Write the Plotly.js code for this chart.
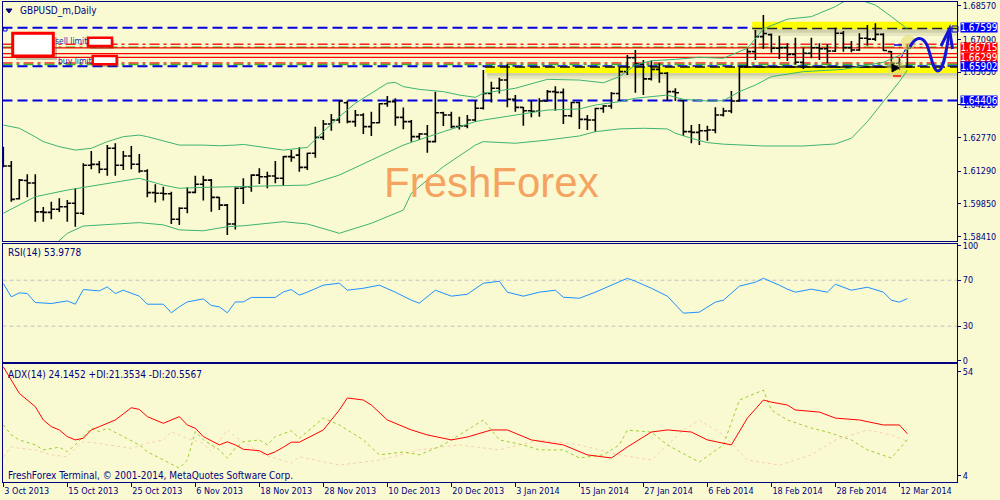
<!DOCTYPE html>
<html><head><meta charset="utf-8">
<script src="https://cdn.plot.ly/plotly-3.0.1.min.js"></script>
<style>html,body{margin:0;padding:0;background:#FAFAD2;}#chart{width:1000px;height:500px;}</style>
</head><body><div id="chart"></div>
<script>
// ---------- DATA ----------
const dateTicks = ['3 Oct 2013','15 Oct 2013','25 Oct 2013','6 Nov 2013','18 Nov 2013','28 Nov 2013','10 Dec 2013','20 Dec 2013','3 Jan 2014','15 Jan 2014','27 Jan 2014','6 Feb 2014','18 Feb 2014','28 Feb 2014','12 Mar 2014'];
const dateTickBars = [0,8,16,24,32,40,48,56,64,72,80,88,96,104,112];

const open = [1.6200,1.6152,1.6008,1.6088,1.6077,1.5950,1.5948,1.5962,1.5973,1.5988,
1.5944,1.6155,1.6159,1.6138,1.6230,1.6155,1.6196,1.6160,1.6130,1.6035,
1.6032,1.6030,1.5918,1.5966,1.6036,1.6072,1.6090,1.6014,1.5980,1.5897,
1.6054,1.6061,1.6112,1.6105,1.6108,1.6098,1.6193,1.6200,1.6146,1.6208,
1.6278,1.6337,1.6354,1.6430,1.6347,1.6376,1.6325,1.6342,1.6426,1.6435,
1.6366,1.6347,1.6281,1.6293,1.6259,1.6386,1.6376,1.6325,1.6328,1.6354,
1.6406,1.6471,1.6494,1.6530,1.6445,1.6410,1.6395,1.6393,1.6438,1.6479,
1.6476,1.6373,1.6431,1.6357,1.6354,1.6405,1.6416,1.6471,1.6567,1.6628,
1.6600,1.6535,1.6577,1.6560,1.6479,1.6440,1.6303,1.6300,1.6307,1.6310,
1.6376,1.6394,1.6438,1.6589,1.6655,1.6721,1.6730,1.6670,1.6672,1.6643,
1.6608,1.6648,1.6672,1.6668,1.6658,1.6736,1.6672,1.6662,1.6714,1.6710,
1.6731,1.6655,1.6604,1.6589];
const high = [1.6237,1.6174,1.6095,1.6116,1.6116,1.5972,1.5995,1.6010,1.6002,1.6054,
1.6164,1.6218,1.6174,1.6244,1.6252,1.6218,1.6240,1.6205,1.6138,1.6072,
1.6061,1.6039,1.5970,1.6058,1.6109,1.6109,1.6095,1.6016,1.5985,1.6058,
1.6098,1.6116,1.6142,1.6127,1.6174,1.6196,1.6222,1.6234,1.6210,1.6325,
1.6354,1.6381,1.6439,1.6439,1.6398,1.6384,1.6391,1.6428,1.6460,1.6450,
1.6409,1.6354,1.6297,1.6332,1.6479,1.6391,1.6391,1.6369,1.6376,1.6442,
1.6574,1.6523,1.6540,1.6599,1.6464,1.6412,1.6439,1.6450,1.6486,1.6503,
1.6493,1.6435,1.6435,1.6376,1.6408,1.6420,1.6477,1.6589,1.6640,1.6662,
1.6618,1.6615,1.6604,1.6565,1.6494,1.6442,1.6332,1.6337,1.6329,1.6410,
1.6408,1.6482,1.6592,1.6670,1.6750,1.6816,1.6735,1.6725,1.6692,1.6716,
1.6672,1.6716,1.6692,1.6687,1.6760,1.6746,1.6702,1.6736,1.6772,1.6780,
1.6736,1.6658,1.6626,1.6684];
const low = [1.6146,1.5995,1.6005,1.6014,1.5907,1.5907,1.5918,1.5950,1.5907,1.5885,
1.5937,1.6138,1.6120,1.6109,1.6109,1.6134,1.6138,1.6122,1.6014,1.5991,
1.6000,1.5897,1.5893,1.5944,1.6032,1.6000,1.5951,1.5958,1.5848,1.5873,
1.5985,1.6039,1.6073,1.6054,1.6076,1.6064,1.6171,1.6127,1.6134,1.6188,
1.6266,1.6307,1.6340,1.6340,1.6325,1.6293,1.6284,1.6340,1.6413,1.6329,
1.6314,1.6259,1.6266,1.6210,1.6255,1.6328,1.6318,1.6313,1.6318,1.6347,
1.6401,1.6431,1.6471,1.6410,1.6391,1.6329,1.6366,1.6369,1.6435,1.6395,
1.6337,1.6366,1.6315,1.6310,1.6303,1.6386,1.6404,1.6439,1.6552,1.6474,
1.6464,1.6528,1.6518,1.6438,1.6438,1.6284,1.6252,1.6244,1.6263,1.6296,
1.6370,1.6384,1.6435,1.6585,1.6618,1.6667,1.6650,1.6623,1.6614,1.6599,
1.6579,1.6626,1.6618,1.6604,1.6653,1.6655,1.6652,1.6658,1.6681,1.6702,
1.6658,1.6582,1.6574,1.6585];
const close = [1.6152,1.6005,1.6090,1.6077,1.5950,1.5948,1.5962,1.5973,1.5988,1.5944,
1.6155,1.6159,1.6138,1.6230,1.6155,1.6196,1.6160,1.6130,1.6035,1.6032,
1.6030,1.5918,1.5966,1.6036,1.6072,1.6090,1.6014,1.5980,1.5897,1.6054,
1.6061,1.6112,1.6105,1.6108,1.6098,1.6193,1.6190,1.6146,1.6208,1.6278,
1.6337,1.6354,1.6438,1.6347,1.6376,1.6325,1.6342,1.6426,1.6435,1.6366,
1.6347,1.6281,1.6293,1.6259,1.6386,1.6376,1.6325,1.6328,1.6354,1.6406,
1.6471,1.6494,1.6530,1.6445,1.6410,1.6395,1.6393,1.6438,1.6479,1.6476,
1.6373,1.6431,1.6357,1.6354,1.6405,1.6416,1.6471,1.6567,1.6628,1.6600,
1.6535,1.6577,1.6560,1.6479,1.6474,1.6303,1.6300,1.6307,1.6310,1.6376,
1.6394,1.6438,1.6589,1.6655,1.6721,1.6735,1.6670,1.6672,1.6643,1.6608,
1.6648,1.6672,1.6668,1.6658,1.6736,1.6672,1.6662,1.6714,1.6710,1.6731,
1.6660,1.6604,1.6589,1.6670];

// Bollinger bands, sampled at bar indices
const bbUpIdx = [0,2,4,5,7,9,11,13,15,17,18,20,22,25,27,29,30,35,38,40,42,44,46,48,49,50,52,55,57,59,60,64,68,72,75,77,79,81,84,87,90,93,95,98,101,104,106,109,111,113];
const bbUp = [1.6332,1.6318,1.6280,1.6259,1.6237,1.6222,1.6230,1.6259,1.6281,1.6288,1.6281,1.6263,1.6244,1.6244,1.6241,1.6244,1.6247,1.6222,1.6234,1.6303,1.6369,1.6428,1.6472,1.6516,1.6520,1.6501,1.6489,1.6479,1.6464,1.6454,1.6472,1.6494,1.6533,1.6530,1.6518,1.6545,1.6596,1.6615,1.6621,1.6630,1.6626,1.6670,1.6755,1.6798,1.6809,1.6853,1.6895,1.6860,1.6809,1.6755];
const bbMidIdx = [0,4,8,10,16,17,20,22,25,29,30,38,42,46,50,55,59,60,64,68,72,74,77,79,83,85,88,90,92,94,96,100,105,107,110,112,113];
const bbMid = [1.5944,1.6017,1.6046,1.6058,1.6095,1.6098,1.6068,1.6054,1.6058,1.6061,1.6064,1.6068,1.6112,1.6178,1.6244,1.6303,1.6347,1.6354,1.6376,1.6398,1.6403,1.6420,1.6435,1.6450,1.6464,1.6445,1.6438,1.6439,1.6479,1.6508,1.6545,1.6567,1.6577,1.6589,1.6608,1.6638,1.6664];
const bbLowIdx = [0,3,5,7,8,10,13,17,20,22,25,28,30,35,38,42,46,50,51,55,59,60,64,68,72,74,77,80,83,84,86,88,90,95,100,104,106,108,110,112,113];
const bbLow = [1.5558,1.5673,1.5760,1.5827,1.5856,1.5888,1.5893,1.5903,1.5893,1.5871,1.5867,1.5885,1.5889,1.5907,1.5897,1.5856,1.5900,1.5958,1.6032,1.6149,1.6244,1.6259,1.6252,1.6266,1.6284,1.6303,1.6315,1.6318,1.6315,1.6296,1.6274,1.6255,1.6248,1.6240,1.6240,1.6249,1.6274,1.6347,1.6435,1.6523,1.6574];

// RSI(14)
const rsiIdx = [0,1,2,3,4,6,8,9,10,12,13,14,15,17,18,20,21,22,23,25,26,27,28,29,30,31,34,35,36,37,38,40,42,43,45,47,49,51,52,54,56,58,60,62,63,65,67,69,70,72,74,77,78,79,81,83,85,87,89,90,92,94,95,97,98,99,101,103,104,106,108,110,111,112,113];
const rsiVal = [67.1,55.5,59.0,58.4,50.6,49.7,52.0,49.1,61.9,60.7,64.2,58.4,61.3,56.1,49.1,49.1,41.6,46.8,51.1,53.7,48.0,46.8,41.6,51.1,51.1,55.0,55.0,59.8,61.9,57.0,59.6,65.7,67.4,61.3,63.0,65.7,59.6,52.6,50.0,61.3,56.1,57.8,67.4,69.1,59.6,56.1,59.6,61.3,55.2,54.3,59.6,68.3,71.7,69.1,63.0,56.1,41.3,42.2,50.9,52.6,64.8,68.3,71.7,65.7,62.2,59.6,62.2,59.6,66.5,61.3,63.9,59.6,52.6,50.9,53.98];
const rsiLevels = [70, 30];

// ADX(14), +DI, -DI
const adxIdx = [0,1,2,4,5,6,7,8,9,10,11,12,14,15,16,17,18,20,22,23,24,25,27,28,29,30,32,33,34,35,36,37,40,42,43,45,46,48,51,53,56,58,61,63,66,70,73,76,78,81,83,86,88,91,93,95,96,98,99,102,104,107,110,112,113];
const adxVal = [56.4,50.0,43.6,37.2,30.8,27.6,26.0,22.8,21.2,22.0,26.0,27.6,30.8,33.7,36.7,35.9,32.4,29.2,32.4,28.4,26.8,22.8,18.8,20.3,18.8,16.7,16.0,14.0,15.5,17.7,20.1,20.1,26.0,35.6,41.4,40.4,38.0,30.8,26.0,23.6,21.2,22.6,26.0,26.0,21.2,18.8,14.0,12.5,17.8,25.0,26.0,25.0,21.2,18.8,31.7,40.4,39.4,38.0,35.6,34.6,31.7,30.8,28.4,28.4,24.15];
const pdiIdx = [0,1,2,4,5,6,7,8,9,11,12,13,15,16,17,18,20,22,23,24,25,27,28,29,30,32,33,34,36,37,40,42,45,47,50,52,55,57,60,62,65,67,70,72,75,77,78,81,83,86,87,90,92,95,96,98,101,103,106,108,111,113];
const pdiVal = [28.4,23.6,21.2,18.8,16.4,17.2,17.7,15.5,18.8,26.8,25.2,26.8,22.8,21.2,18.8,15.5,11.5,7.6,11.5,25.2,21.2,16.4,12.4,17.2,20.3,21.2,18.8,22.8,25.6,22.0,31.7,28.4,21.2,14.0,15.4,14.0,18.8,23.6,30.8,21.2,18.8,16.4,16.4,12.5,14.0,18.8,25.9,25.0,18.8,12.5,10.6,18.8,40.4,45.2,35.6,30.8,26.9,25.0,21.2,16.4,12.5,21.35];
const mdiIdx = [0,1,2,4,5,6,8,9,10,12,13,15,16,18,20,21,22,23,25,26,28,29,31,32,34,36,37,42,47,52,57,62,67,72,77,81,85,87,90,93,97,101,104,108,111,113];
const mdiVal = [13.1,17.9,17.2,16.4,15.1,14.0,13.1,17.2,20.3,19.6,18.8,17.9,17.2,19.6,21.2,25.2,23.6,22.0,19.6,15.5,26.0,22.8,17.9,14.8,12.4,10.0,13.1,9.1,11.5,16.4,18.8,16.4,21.2,18.8,14.0,11.5,26.0,30.8,23.6,11.5,9.1,14.0,21.2,26.0,23.6,20.56];

// price axis ticks and level lines
const priceTicks = [1.68570,1.67090,1.65650,1.64210,1.62770,1.61290,1.59850,1.58410];
const blueLevels = [1.67599, 1.65902, 1.64406];
const redLevels = [1.66715, 1.66460, 1.66299];
const redDashDotLevels = [1.6688, 1.6605];
const greenDashDotLevels = [1.6674, 1.6598];
const priceTags = [1.67599, 1.66715, 1.66299, 1.65902, 1.64406];
const upperZone = {fromBar: 93.6, lo: 1.6753, hi: 1.6786, line: 1.67565};
const lowerZone = {fromBar: 60.2, lo: 1.6561, hi: 1.6589, line: 1.6587, solidFrom: 92.7, solidTo: 113.5};

// ---------- STYLE / LAYOUT ----------
const BG = '#FAFAD2', NAVY = '#000080';
const FONT = 'DejaVu Sans Condensed, DejaVu Sans, sans-serif';
const PX = x => x / 1000, PY = y => 1 - y / 500;
const bars = open.map((_, i) => i);
const XR = [-0.1, 119.2];
const YR3 = [1.58221, 1.68733];

const traces = [
  {type:'scatter', mode:'lines', x:bbUpIdx, y:bbUp, xaxis:'x3', yaxis:'y3', line:{color:'#3CB371', width:1}, hoverinfo:'skip'},
  {type:'scatter', mode:'lines', x:bbMidIdx, y:bbMid, xaxis:'x3', yaxis:'y3', line:{color:'#3CB371', width:1}, hoverinfo:'skip'},
  {type:'scatter', mode:'lines', x:bbLowIdx, y:bbLow, xaxis:'x3', yaxis:'y3', line:{color:'#3CB371', width:1}, hoverinfo:'skip'},
  {type:'ohlc', x:bars, open:open, high:high, low:low, close:close, xaxis:'x3', yaxis:'y3',
   increasing:{line:{color:'#000000', width:1.6}}, decreasing:{line:{color:'#000000', width:1.6}}, tickwidth:0.45, hoverinfo:'skip'},
  {type:'scatter', mode:'lines', x:rsiIdx, y:rsiVal, xaxis:'x2', yaxis:'y2', line:{color:'#1E90FF', width:1}, hoverinfo:'skip'},
  {type:'scatter', mode:'lines', x:mdiIdx, y:mdiVal, xaxis:'x', yaxis:'y', line:{color:'#F7CFB0', width:1, dash:'3px,3px'}, hoverinfo:'skip'},
  {type:'scatter', mode:'lines', x:pdiIdx, y:pdiVal, xaxis:'x', yaxis:'y', line:{color:'#9ACD32', width:1, dash:'3px,3px'}, hoverinfo:'skip'},
  {type:'scatter', mode:'lines', x:adxIdx, y:adxVal, xaxis:'x', yaxis:'y', line:{color:'#FF0000', width:1}, hoverinfo:'skip'}
];

const axBase = {showline:true, mirror:true, linecolor:NAVY, linewidth:1, showgrid:false, zeroline:false, fixedrange:true,
  tickfont:{family:FONT, size:9, color:NAVY}, tickcolor:NAVY};
const xBase = Object.assign({}, axBase, {domain:[0.0025, 0.957], range:XR, rangeslider:{visible:false}});

const shapes = [];
const hl = (y, color, dash, width, yref, x0, x1, xref, layer) => shapes.push({type:'line', xref:xref||'paper', yref:yref||'y3',
  x0:(x0===undefined?PX(2.5):x0), x1:(x1===undefined?PX(957):x1), y0:y, y1:y, line:{color:color, width:width, dash:dash}, layer:layer||'below'});

// yellow zones with shadow
[upperZone, lowerZone].forEach(z => {
  const h = z.hi - z.lo;
  shapes.push({type:'rect', xref:'x3', yref:'y3', x0:z.fromBar+0.3, x1:XR[1], y0:z.lo-h*0.9, y1:z.lo, fillcolor:'rgba(90,90,60,0.12)', line:{width:0}, layer:'below'});
  shapes.push({type:'rect', xref:'x3', yref:'y3', x0:z.fromBar+0.2, x1:XR[1], y0:z.lo-h*0.45, y1:z.lo, fillcolor:'rgba(90,90,60,0.15)', line:{width:0}, layer:'below'});
  shapes.push({type:'rect', xref:'x3', yref:'y3', x0:z.fromBar, x1:XR[1], y0:z.lo, y1:z.hi, fillcolor:'#FFFF00', line:{width:0}, layer:'below'});
});
redDashDotLevels.forEach(v => hl(v, '#FF2020', '10px,4px,3px,4px', 1.5));
greenDashDotLevels.forEach(v => hl(v, '#33BB22', '10px,4px,3px,4px', 1.5));
redLevels.forEach(v => hl(v, '#FF0000', 'solid', 1.3));
blueLevels.forEach(v => hl(v, '#0000E0', '10px,5px', 2));
hl(upperZone.line, '#202020', '10px,5px', 1.5, 'y3', upperZone.fromBar, XR[1], 'x3');
hl(lowerZone.line, '#101010', '10px,5px', 1.5, 'y3', lowerZone.fromBar, XR[1], 'x3');
hl(lowerZone.line, '#101010', 'solid', 1.5, 'y3', lowerZone.solidFrom, lowerZone.solidTo, 'x3');
rsiLevels.forEach(v => hl(v, '#C0C0C0', '4px,3px', 1, 'y2'));

// decorations (paper coords)
const rect = (x0,y0,x1,y1,fill,lc,lw,layer) => shapes.push({type:'rect', xref:'paper', yref:'paper', x0:PX(x0), x1:PX(x1), y0:PY(y1), y1:PY(y0), fillcolor:fill, line:{color:lc||fill, width:lw||0}, layer:layer||'above'});
rect(16,37,57,60,'rgba(60,60,40,0.3)',null,0);
rect(12.7,33.3,53.3,56,'#FFFFFF','#FF0000',3);
rect(90,40,114,49,'rgba(60,60,40,0.3)',null,0);
rect(88,37.7,112,46,'#FFFFFF','#FF0000',2.5);
rect(95,58,119,67,'rgba(60,60,40,0.3)',null,0);
rect(92.7,56,116.7,64.3,'#FFFFFF','#FF0000',2.5);
rect(3.3,27.5,7,31,'rgba(0,0,0,0)','#0000E0',1);
rect(952,26,958,32,'rgba(0,0,0,0)','#0000E0',1);
shapes.push({type:'path', xref:'paper', yref:'paper', path:`M ${PX(6)},${PY(9)} L ${PX(12)},${PY(9)} L ${PX(9)},${PY(13)} Z`, fillcolor:NAVY, line:{color:NAVY, width:1}});
// glows
shapes.push({type:'circle', xref:'paper', yref:'paper', x0:PX(887), x1:PX(906), y0:PY(78), y1:PY(59), fillcolor:'rgba(225,220,110,0.55)', line:{width:0}, layer:'above'});
shapes.push({type:'circle', xref:'paper', yref:'paper', x0:PX(901), x1:PX(916), y0:PY(50), y1:PY(35), fillcolor:'rgba(225,220,110,0.6)', line:{width:0}, layer:'above'});
// trade marks
shapes.push({type:'line', xref:'paper', yref:'paper', x0:PX(896), x1:PX(906), y0:PY(68), y1:PY(48), line:{color:'#0000E0', width:1, dash:'dot'}});
shapes.push({type:'line', xref:'paper', yref:'paper', x0:PX(894), x1:PX(902), y0:PY(45), y1:PY(45), line:{color:'#0000E0', width:1.5}});
shapes.push({type:'line', xref:'paper', yref:'paper', x0:PX(893), x1:PX(901), y0:PY(76), y1:PY(76), line:{color:'#FF0000', width:1.5}});
shapes.push({type:'path', xref:'paper', yref:'paper', path:`M ${PX(892)},${PY(64)} L ${PX(899)},${PY(68)} L ${PX(892)},${PY(72)} Z`, fillcolor:'#000000', line:{color:'#000000', width:1}});
// hand-drawn forecast arrow
shapes.push({type:'path', xref:'paper', yref:'paper',
  path:`M ${PX(910)},${PY(47)} C ${PX(915)},${PY(37)} ${PX(922)},${PY(35)} ${PX(927)},${PY(45)} C ${PX(931)},${PY(55)} ${PX(933)},${PY(71)} ${PX(938)},${PY(71)} C ${PX(944)},${PY(71)} ${PX(946)},${PY(50)} ${PX(950)},${PY(29)}`,
  line:{color:'#1414D8', width:3}});
shapes.push({type:'path', xref:'paper', yref:'paper', path:`M ${PX(941)},${PY(46)} L ${PX(949.5)},${PY(29)} L ${PX(952.5)},${PY(49)}`, line:{color:'#1414D8', width:3}});

const ann = [];
const txt = (x, y, t, size, color, fam) => ann.push({xref:'paper', yref:'paper', x:PX(x), y:PY(y), xanchor:'left', yanchor:'middle', text:t, showarrow:false, font:{family:fam||FONT, size:size||9, color:color||NAVY}});
txt(18, 11, 'GBPUSD_m,Daily', 10);
txt(6, 252, 'RSI(14) 53.9778', 10);
txt(6, 374, 'ADX(14) 24.1452 +DI:21.3534 -DI:20.5567', 10);
txt(6, 475, 'FreshForex Terminal, © 2001-2014, MetaQuotes Software Corp.', 10);
txt(53, 41.5, 'sell limit', 8.5, '#2030B0');
txt(56, 60.5, 'buy limit', 8.5, '#2030B0');
ann.push({xref:'paper', yref:'paper', x:PX(491), y:PY(182), text:'FreshForex', showarrow:false, font:{family:'Liberation Sans, Arial, sans-serif', size:42, color:'#F4A460'}});
// price tags (boxes cover the axis labels beneath, as in the terminal)
const tagColor = ['#0000FF','#FF0000','#FF0000','#0000FF','#0000FF'];
priceTags.forEach((v, k) => ann.push({xref:'paper', yref:'y3', x:PX(959.5), y:v, xanchor:'left', yanchor:'middle', text:v.toFixed(5), showarrow:false,
  width:36, height:9, borderpad:0, bgcolor:tagColor[k], font:{family:FONT, size:10, color:'#FFFFFF'}}));

const layout = {
  width:1000, height:500, margin:{l:0, r:0, t:0, b:0}, paper_bgcolor:BG, plot_bgcolor:BG, showlegend:false,
  xaxis: Object.assign({}, xBase, {anchor:'y', tickvals:dateTickBars, ticktext:dateTicks, ticks:'outside', ticklen:4, ticklabelposition:'outside right'}),
  xaxis2: Object.assign({}, xBase, {anchor:'y2', showticklabels:false, ticks:''}),
  xaxis3: Object.assign({}, xBase, {anchor:'y3', showticklabels:false, ticks:''}),
  yaxis: Object.assign({}, axBase, {domain:[0.0354, 0.2714], range:[0.8, 57.6], side:'right', anchor:'x', tickvals:[4, 54], ticks:'outside', ticklen:3}),
  yaxis2: Object.assign({}, axBase, {domain:[0.2766, 0.513], range:[-1, 102], side:'right', anchor:'x2', tickvals:[0, 30, 70, 100], ticks:'outside', ticklen:3}),
  yaxis3: Object.assign({}, axBase, {domain:[0.518, 0.996], range:YR3, side:'right', anchor:'x3', tickvals:priceTicks, ticktext:priceTicks.map(v => v.toFixed(5)), ticks:'outside', ticklen:3}),
  shapes: shapes, annotations: ann
};
Plotly.newPlot('chart', traces, layout, {displayModeBar:false, staticPlot:true});
</script></body></html>
